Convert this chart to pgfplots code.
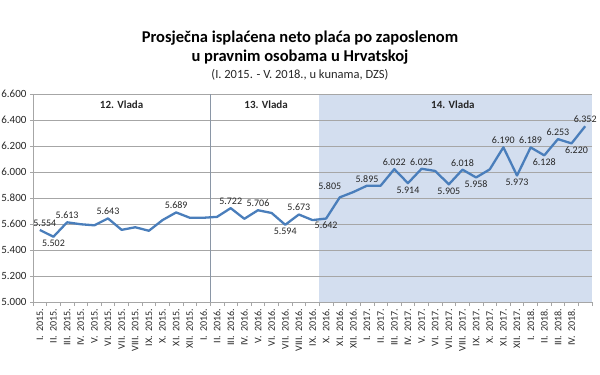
\documentclass[border=0pt]{standalone}
\usepackage{pgfplots}
\pgfplotsset{compat=1.18}
\usepackage{fontspec}
\setmainfont{Carlito}
\definecolor{lineblue}{HTML}{4A7EBB}
\definecolor{shadec}{HTML}{D3DEEF}
\definecolor{gridc}{HTML}{A6A6A6}
\definecolor{vline}{HTML}{8A96A6}
\definecolor{txt}{HTML}{262626}
\begin{document}
\begin{tikzpicture}
\useasboundingbox (-33pt,-73pt) rectangle (567pt,302pt);
\begin{axis}[
  at={(0pt,0pt)}, anchor=south west,
  scale only axis, width=559pt, height=208pt,
  xmin=-0.5, xmax=40.5, ymin=5000, ymax=6600,
  ytick={5000,5200,...,6600},
  ymajorgrids, grid style={gridc, line width=0.7pt},
  axis x line*=bottom, axis y line*=left,
  axis line style={gridc, line width=0.8pt, -},
  tick align=outside,
  xtick={0,...,40},
  major x tick style={draw=none},
  minor xtick={-0.5,0.5,...,40.5},
  minor x tick style={gridc, line width=0.7pt},
  minor tick length=4pt,
  major y tick style={gridc, line width=0.7pt},
  major tick length=3pt,
  xticklabels={I.\ \ 2015.,II.\ \ 2015.,III.\ \ 2015.,IV.\ \ 2015.,V.\ \ 2015.,VI.\ \ 2015.,VII.\ \ 2015.,VIII.\ \ 2015.,IX.\ \ 2015.,X.\ \ 2015.,XI.\ \ 2015.,XII.\ \ 2015.,
    I.\ \ 2016.,II.\ \ 2016.,III.\ \ 2016.,IV.\ \ 2016.,V.\ \ 2016.,VI.\ \ 2016.,VII.\ \ 2016.,VIII.\ \ 2016.,IX.\ \ 2016.,X.\ \ 2016.,XI.\ \ 2016.,XII.\ \ 2016.,
    I.\ \ 2017.,II.\ \ 2017.,III.\ \ 2017.,IV.\ \ 2017.,V.\ \ 2017.,VI.\ \ 2017.,VII.\ \ 2017.,VIII.\ \ 2017.,IX.\ \ 2017.,X.\ \ 2017.,XI.\ \ 2017.,XII.\ \ 2017.,
    I.\ \ 2018.,II.\ \ 2018.,III.\ \ 2018.,IV.\ \ 2018.,{}},
  xticklabel style={rotate=90, anchor=east, font=\fontsize{10}{11}\selectfont, text=txt},
  yticklabel style={font=\fontsize{11}{12}\selectfont, text=txt},
  /pgf/number format/1000 sep={.},
  /pgf/number format/assume math mode=true,
  clip=false,
]
\addplot[fill=shadec, draw=none, mark=none] coordinates {(20.5,5000)(20.5,6600)(40.5,6600)(40.5,5000)} -- cycle;
\foreach \yy in {5200,5400,...,6600} {
  \edef\tmp{\noexpand\draw[gridc, line width=0.7pt] (axis cs:20.5,\yy) -- (axis cs:40.5,\yy);}\tmp
}
\draw[vline, line width=1pt] (axis cs:12.5,5000) -- (axis cs:12.5,6600);

\addplot[lineblue, line width=2.3pt, mark=none, line join=round] coordinates {
(0,5554)(1,5502)(2,5613)(3,5598)(4,5590)(5,5643)(6,5555)(7,5575)(8,5548)(9,5630)
(10,5689)(11,5648)(12,5648)(13,5655)(14,5722)(15,5640)(16,5706)(17,5685)(18,5594)(19,5673)
(20,5630)(21,5642)(22,5805)(23,5846)(24,5895)(25,5895)(26,6022)(27,5914)(28,6025)(29,6008)
(30,5905)(31,6018)(32,5958)(33,6020)(34,6190)(35,5973)(36,6189)(37,6128)(38,6253)(39,6220)
(40,6352)};

% labels above
\addplot[only marks, mark=none, nodes near coords, point meta=y,
  nodes near coords style={anchor=south, font=\fontsize{10}{11}\selectfont, text=txt,
    /pgf/number format/fixed, /pgf/number format/precision=0}]
coordinates {(2,5613)(5,5643)(10,5689)(14,5722)(16,5706)(19,5673)(24,5895)(26,6022)(28,6025)(31,6018)(34,6190)(36,6189)(38,6253)(40,6352)};
% labels above right
\addplot[only marks, mark=none, nodes near coords, point meta=y,
  nodes near coords style={anchor=south, xshift=5pt, font=\fontsize{10}{11}\selectfont, text=txt,
    /pgf/number format/fixed, /pgf/number format/precision=0}]
coordinates {(0,5554)};
% labels above left
\addplot[only marks, mark=none, nodes near coords, point meta=y,
  nodes near coords style={anchor=south, xshift=-10pt, yshift=4pt, font=\fontsize{10}{11}\selectfont, text=txt,
    /pgf/number format/fixed, /pgf/number format/precision=0}]
coordinates {(22,5805)};
% labels below
\addplot[only marks, mark=none, nodes near coords, point meta=y,
  nodes near coords style={anchor=north, font=\fontsize{10}{11}\selectfont, text=txt,
    /pgf/number format/fixed, /pgf/number format/precision=0}]
coordinates {(1,5502)(18,5594)(21,5642)(27,5914)(30,5905)(32,5958)(35,5973)(37,6128)};
% labels below right
\addplot[only marks, mark=none, nodes near coords, point meta=y,
  nodes near coords style={anchor=north, xshift=5pt, font=\fontsize{10}{11}\selectfont, text=txt,
    /pgf/number format/fixed, /pgf/number format/precision=0}]
coordinates {(39,6220)};

\node[font=\fontsize{11}{12}\selectfont\bfseries, text=txt] at (axis cs:6,6515) {12. Vlada};
\node[font=\fontsize{11}{12}\selectfont\bfseries, text=txt] at (axis cs:16.6,6515) {13. Vlada};
\node[font=\fontsize{11}{12}\selectfont\bfseries, text=txt] at (axis cs:30.3,6515) {14. Vlada};
\end{axis}
\node[font=\fontsize{16.5}{18}\selectfont\bfseries] at (267pt,264pt) {Prosječna isplaćena neto plaća po zaposlenom};
\node[font=\fontsize{16.5}{18}\selectfont\bfseries] at (267pt,245pt) {u pravnim osobama u Hrvatskoj};
\node[font=\fontsize{12.5}{14}\selectfont, text=txt] at (267pt,227pt) {(I. 2015. - V. 2018., u kunama, DZS)};
\end{tikzpicture}
\end{document}
